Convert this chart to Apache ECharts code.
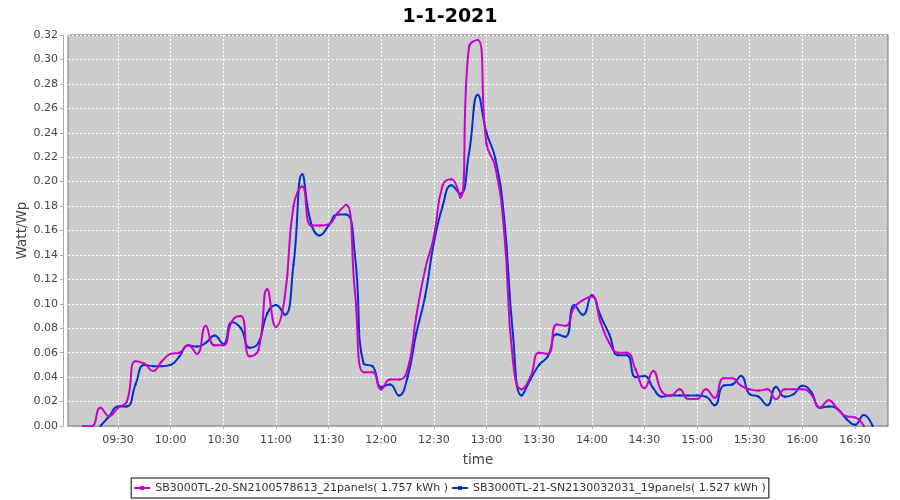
<!DOCTYPE html>
<html>
<head>
<meta charset="utf-8">
<script src="https://cdn.jsdelivr.net/npm/echarts@6/dist/echarts.min.js"></script>
<style>html,body{margin:0;padding:0;background:#fff;}#chart{width:900px;height:500px;}</style>
</head>
<body>
<div id="chart"></div>
<script>
const title = '1-1-2021';
const seriesNames = [
  'SB3000TL-20-SN2100578613_21panels( 1.757 kWh )',
  'SB3000TL-21-SN2130032031_19panels( 1.527 kWh )'
];
const times = [
  '09:10','09:15','09:20','09:25','09:30','09:35','09:40','09:45','09:50','09:55',
  '10:00','10:05','10:10','10:15','10:20','10:25','10:30','10:35','10:40','10:45','10:50','10:55',
  '11:00','11:05','11:10','11:15','11:20','11:25','11:30','11:35','11:40','11:45','11:50','11:55',
  '12:00','12:05','12:10','12:15','12:20','12:25','12:30','12:35','12:40','12:45','12:50','12:55',
  '13:00','13:05','13:10','13:15','13:20','13:25','13:30','13:35','13:40','13:45','13:50','13:55',
  '14:00','14:05','14:10','14:15','14:20','14:25','14:30','14:35','14:40','14:45','14:50','14:55',
  '15:00','15:05','15:10','15:15','15:20','15:25','15:30','15:35','15:40','15:45','15:50','15:55',
  '16:00','16:05','16:10','16:15','16:20','16:25','16:30','16:35','16:40'
];
const magentaValues = [
  0.000,0.000,0.015,0.008,0.015,0.020,0.053,0.051,0.045,0.053,
  0.059,0.060,0.066,0.059,0.082,0.066,0.066,0.086,0.090,0.057,0.062,0.112,
  0.081,0.105,0.180,0.196,0.164,0.164,0.165,0.174,0.181,0.110,0.044,0.044,
  0.030,0.038,0.038,0.046,0.090,0.128,0.155,0.197,0.202,0.187,0.310,0.316,
  0.231,0.212,0.160,0.054,0.030,0.040,0.060,0.059,0.083,0.082,0.097,0.103,
  0.106,0.085,0.068,0.060,0.060,0.046,0.031,0.045,0.028,0.025,0.030,0.022,
  0.022,0.030,0.023,0.039,0.039,0.033,0.030,0.029,0.030,0.022,0.030,0.030,
  0.030,0.026,0.015,0.021,0.014,0.008,0.007,0.000,null
];
const blueValues = [
  null,null,0.000,0.008,0.016,0.016,0.034,0.050,0.049,0.049,
  0.050,0.057,0.066,0.065,0.068,0.074,0.067,0.085,0.080,0.064,0.068,0.092,
  0.099,0.091,0.132,0.206,0.166,0.156,0.164,0.173,0.173,0.140,0.051,0.049,
  0.032,0.034,0.025,0.040,0.076,0.106,0.150,0.180,0.197,0.190,0.223,0.271,
  0.240,0.219,0.171,0.076,0.025,0.038,0.050,0.057,0.075,0.073,0.099,0.091,
  0.107,0.090,0.075,0.058,0.058,0.040,0.041,0.031,0.024,0.025,0.025,0.025,
  0.025,0.024,0.017,0.033,0.034,0.041,0.026,0.024,0.017,0.032,0.024,0.026,
  0.033,0.028,0.015,0.016,0.014,0.006,0.001,0.009,0.000
];
const tickLabels = ['09:30','10:00','10:30','11:00','11:30','12:00','12:30','13:00','13:30','14:00','14:30','15:00','15:30','16:00','16:30'];

function toMin(s){ const p = s.split(':').map(Number); return p[0]*60 + p[1]; }
function pad(n){ return (n < 10 ? '0' : '') + n; }
function fmt(v){ const m = Math.round(v); return pad(Math.floor(m/60)) + ':' + pad(m % 60); }

const tickMins = tickLabels.map(toMin);
const magentaData = times.map((t,i) => [toMin(t), magentaValues[i]]);
const blueData = times.map((t,i) => [toMin(t), blueValues[i]]);

const FONT = 'DejaVu Sans';
const chart = echarts.init(document.getElementById('chart'), null, {renderer:'canvas'});
chart.setOption({
  animation: false,
  backgroundColor: '#ffffff',
  title: {
    text: title, left: 'center', top: 3,
    textStyle: {fontFamily: FONT, fontWeight: 'bold', fontSize: 19, color: '#000'}
  },
  legend: {
    data: seriesNames,
    left: 'center', bottom: 2,
    borderColor: '#000', borderWidth: 1, borderRadius: 0,
    padding: [3, 3, 3, 3],
    itemGap: 4, itemWidth: 16, itemHeight: 4,
    icon: 'path://M0,1H16V3H0Z M6,0H10V4H6Z',
    itemStyle: {borderWidth: 0},
    textStyle: {fontFamily: FONT, fontSize: 11, color: '#333', lineHeight: 14}
  },
  grid: {
    left: 68, right: 12, top: 35, bottom: 74,
    show: true, backgroundColor: '#cccccc', borderColor: '#777777', borderWidth: 1
  },
  xAxis: {
    type: 'value', min: 541.5, max: 1008.8, offset: 4,
    name: 'time', nameLocation: 'middle', nameGap: 23, nameMoveOverlap: false,
    nameTextStyle: {fontFamily: FONT, fontSize: 13.5, color: '#444'},
    axisLine: {show: true, lineStyle: {color: '#aaaaaa'}},
    axisTick: {show: true, customValues: tickMins, length: 3, lineStyle: {color: '#aaaaaa'}},
    axisLabel: {customValues: tickMins, formatter: fmt, fontFamily: FONT, fontSize: 11, color: '#444', margin: 5},
    splitLine: {show: true, lineStyle: {color: '#ffffff', type: [2, 2], width: 1}}
  },
  yAxis: {
    type: 'value', min: 0, max: 0.32, interval: 0.02, offset: 5,
    name: 'Watt/Wp', nameLocation: 'middle', nameGap: 34, nameRotate: 90, nameMoveOverlap: false,
    nameTextStyle: {fontFamily: FONT, fontSize: 13.5, color: '#444'},
    axisLine: {show: true, lineStyle: {color: '#aaaaaa'}},
    axisTick: {show: true, length: 3, lineStyle: {color: '#aaaaaa'}},
    axisLabel: {formatter: v => v.toFixed(2), fontFamily: FONT, fontSize: 11, color: '#444', margin: 5},
    splitLine: {show: true, lineStyle: {color: '#ffffff', type: [2, 2], width: 1}}
  },
  series: [
    {
      name: seriesNames[1], type: 'line', data: blueData, smooth: 0.5,
      symbol: 'rect', symbolSize: 2, showSymbol: true,
      lineStyle: {width: 2, color: '#0033cc'}, itemStyle: {color: '#0033cc'},
      connectNulls: false, z: 2
    },
    {
      name: seriesNames[0], type: 'line', data: magentaData, smooth: 0.5,
      symbol: 'rect', symbolSize: 2, showSymbol: true,
      lineStyle: {width: 2, color: '#cc00cc'}, itemStyle: {color: '#cc00cc'},
      connectNulls: false, z: 3
    }
  ]
});
</script>
</body>
</html>
